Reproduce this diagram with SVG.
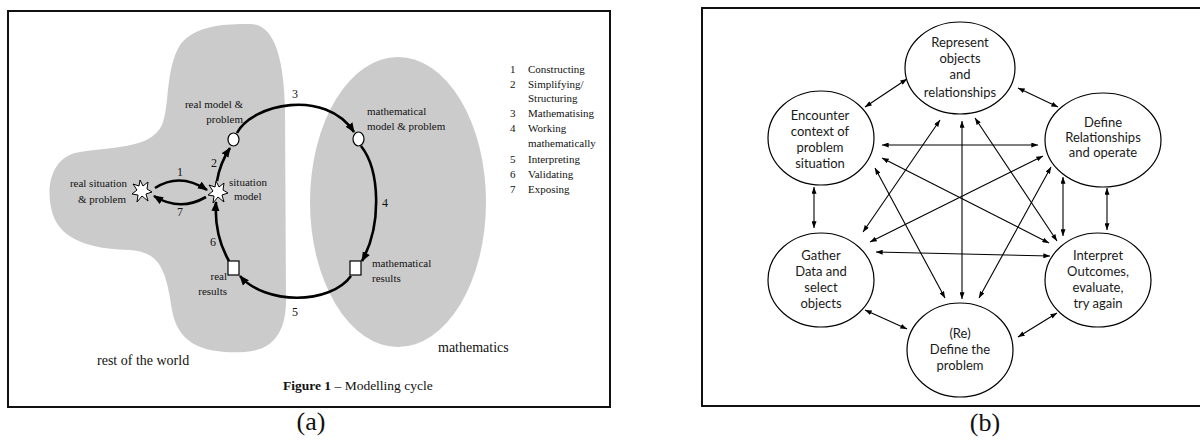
<svg xmlns="http://www.w3.org/2000/svg" width="1200" height="443" viewBox="0 0 1200 443">
<style>
.frame{fill:none;stroke:#111;stroke-width:2}
.serif{font-family:"Liberation Serif","Times New Roman",serif;fill:#111}
.lbl{font-size:11px}
.cap{font-size:26px}
.big{font-size:14px}
.blob{fill:#cbcbcb;stroke:none}
.thick{fill:none;stroke:#000;stroke-width:2.6;marker-end:url(#ha)}
.num{font-size:12px}
.node{fill:#fff;stroke:#000;stroke-width:1.2}
.sans{font-family:Lato,"Open Sans",sans-serif;font-size:13px;fill:#1a1a1a;text-anchor:middle}
.c{fill:none;stroke:#000;stroke-width:1.1;marker-start:url(#hb);marker-end:url(#hb)}
</style>
<defs>
<marker id="ha" viewBox="0 0 10 8" refX="9" refY="4" markerWidth="10" markerHeight="9" orient="auto" markerUnits="userSpaceOnUse"><path d="M0,0 L10,4 L0,8 z" fill="#000"/></marker>
<marker id="hb" viewBox="0 0 8 6" refX="8" refY="3" markerWidth="7" markerHeight="5" orient="auto-start-reverse" markerUnits="userSpaceOnUse"><path d="M0,0 L8,3 L0,6 z" fill="#000"/></marker>
<polygon id="star" points="-2,-11 1,-5 6,-9 5,-2 10,1 4,3 6,10 0,5 -5,11 -4,4 -10,3 -5,-1 -9,-7 -3,-5" fill="#fff" stroke="#000" stroke-width="1"/>
</defs>
<rect width="1200" height="443" fill="#fff"/>

<!-- Panel (a) -->
<g id="panel-a">
<rect class="frame" x="8" y="11" width="602" height="396"/>
<path id="real-world" class="blob" d="M250 24 C275 24 284 60 285 110 L286 300 C286 330 275 350 245 352 C205 354 178 345 172 310 C166 270 160 252 130 250 C90 249 62 240 53 215 C45 190 50 160 75 153 C110 146 150 150 162 125 C170 105 165 70 180 45 C195 25 225 24 250 24 Z"/>
<ellipse id="math-world" class="blob" cx="398" cy="202" rx="88" ry="145"/>
<text class="serif big" x="97" y="365">rest of the world</text>
<text class="serif big" x="438" y="352">mathematics</text>
<text class="serif" x="283" y="390" font-size="13.5"><tspan font-weight="bold">Figure 1</tspan> – Modelling cycle</text>

<g id="connectors-a">
<path class="thick" d="M155 188 Q180 172 207 190"/>
<path class="thick" d="M206 197 Q180 212 154 196"/>
<path class="thick" d="M217 181 Q220 163 230 148"/>
<path class="thick" d="M237 133 C252 104 325 88 354 132"/>
<path class="thick" d="M361 146 C380 170 382 225 362 261"/>
<path class="thick" d="M351 276 C330 305 265 305 240 276"/>
<path class="thick" d="M229 261 Q214 235 216 202"/>
<text class="serif num" x="180" y="176" text-anchor="middle">1</text>
<text class="serif num" x="214" y="167" text-anchor="middle">2</text>
<text class="serif num" x="295" y="98" text-anchor="middle">3</text>
<text class="serif num" x="385" y="207" text-anchor="middle">4</text>
<text class="serif num" x="295" y="316" text-anchor="middle">5</text>
<text class="serif num" x="213" y="246" text-anchor="middle">6</text>
<text class="serif num" x="180" y="216" text-anchor="middle">7</text>
</g>

<g id="real-situation">
<use href="#star" x="142" y="191"/>
<text class="serif lbl" x="127" y="187" text-anchor="end">real situation</text>
<text class="serif lbl" x="126" y="203" text-anchor="end">&amp; problem</text>
</g>
<g id="situation-model">
<use href="#star" x="218" y="192"/>
<text class="serif lbl" x="229" y="186">situation</text>
<text class="serif lbl" x="234" y="200">model</text>
</g>
<g id="real-model">
<ellipse class="node" cx="233.5" cy="139.5" rx="5.5" ry="6.5"/>
<text class="serif lbl" x="243" y="108" text-anchor="end">real model &amp;</text>
<text class="serif lbl" x="243" y="123" text-anchor="end">problem</text>
</g>
<g id="math-model">
<ellipse class="node" cx="358.5" cy="139" rx="5.5" ry="7"/>
<text class="serif lbl" x="367" y="115">mathematical</text>
<text class="serif lbl" x="367" y="130">model &amp; problem</text>
</g>
<g id="math-results">
<rect class="node" x="350" y="261" width="11" height="14"/>
<text class="serif lbl" x="372" y="267">mathematical</text>
<text class="serif lbl" x="372" y="282">results</text>
</g>
<g id="real-results">
<rect class="node" x="228" y="261" width="11" height="14"/>
<text class="serif lbl" x="227" y="280" text-anchor="end">real</text>
<text class="serif lbl" x="227" y="295" text-anchor="end">results</text>
</g>

<g id="legend" class="serif lbl">
<text x="510" y="73">1</text><text x="528" y="73">Constructing</text>
<text x="510" y="88">2</text><text x="528" y="88">Simplifying/</text>
<text x="528" y="102">Structuring</text>
<text x="510" y="117">3</text><text x="528" y="117">Mathematising</text>
<text x="510" y="132">4</text><text x="528" y="132">Working</text>
<text x="528" y="147">mathematically</text>
<text x="510" y="163">5</text><text x="528" y="163">Interpreting</text>
<text x="510" y="178">6</text><text x="528" y="178">Validating</text>
<text x="510" y="193">7</text><text x="528" y="193">Exposing</text>
</g>
<text class="serif cap" x="311" y="430" text-anchor="middle">(a)</text>
</g>

<!-- Panel (b) -->
<g id="panel-b">
<path class="frame" d="M1201 8 H702 V406 H1201"/>
<g id="connectors-b">
<line class="c" x1="865" y1="107" x2="907" y2="79"/>
<line class="c" x1="1018" y1="88" x2="1058" y2="107"/>
<line class="c" x1="814" y1="187" x2="814" y2="228"/>
<line class="c" x1="1063" y1="177" x2="1063" y2="236"/>
<line class="c" x1="1107" y1="188" x2="1107" y2="230"/>
<line class="c" x1="865" y1="310" x2="907" y2="329"/>
<line class="c" x1="1018" y1="337" x2="1057" y2="313"/>
<line class="c" x1="882" y1="145" x2="1038" y2="145"/>
<line class="c" x1="876" y1="252" x2="1050" y2="256"/>
<line class="c" x1="962" y1="121" x2="962" y2="299"/>
<line class="c" x1="940" y1="120" x2="863" y2="232"/>
<line class="c" x1="975" y1="118" x2="1057" y2="241"/>
<line class="c" x1="882" y1="158" x2="1049" y2="243"/>
<line class="c" x1="875" y1="168" x2="945" y2="298"/>
<line class="c" x1="870" y1="242" x2="1043" y2="156"/>
<line class="c" x1="1051" y1="167" x2="979" y2="298"/>
</g>
<g id="represent">
<ellipse class="node" cx="960" cy="68" rx="55" ry="46"/>
<text class="sans" x="960" y="46.5">Represent</text>
<text class="sans" x="960" y="62.5">objects</text>
<text class="sans" x="960" y="78.5">and</text>
<text class="sans" x="960" y="97" font-size="12">relationships</text>
</g>
<g id="encounter">
<ellipse class="node" cx="821" cy="138" rx="53" ry="47"/>
<text class="sans" x="820" y="120">Encounter</text>
<text class="sans" x="820" y="136">context of</text>
<text class="sans" x="820" y="152">problem</text>
<text class="sans" x="820" y="168">situation</text>
</g>
<g id="define-rel">
<ellipse class="node" cx="1103" cy="140" rx="58" ry="47"/>
<text class="sans" x="1103" y="127" font-size="12.5">Define</text>
<text class="sans" x="1103" y="142" font-size="12.5">Relationships</text>
<text class="sans" x="1103" y="157" font-size="12.5">and operate</text>
</g>
<g id="gather">
<ellipse class="node" cx="821" cy="280" rx="53" ry="47"/>
<text class="sans" x="821" y="260">Gather</text>
<text class="sans" x="821" y="276">Data and</text>
<text class="sans" x="821" y="292">select</text>
<text class="sans" x="821" y="308">objects</text>
</g>
<g id="interpret">
<ellipse class="node" cx="1098" cy="280" rx="53" ry="47"/>
<text class="sans" x="1098" y="260">Interpret</text>
<text class="sans" x="1098" y="276">Outcomes,</text>
<text class="sans" x="1098" y="292">evaluate,</text>
<text class="sans" x="1098" y="308">try again</text>
</g>
<g id="redefine">
<ellipse class="node" cx="960" cy="350" rx="53" ry="47"/>
<text class="sans" x="960" y="338">(Re)</text>
<text class="sans" x="960" y="354">Define the</text>
<text class="sans" x="960" y="370">problem</text>
</g>
<text class="serif cap" x="985" y="431" text-anchor="middle">(b)</text>
</g>
</svg>
